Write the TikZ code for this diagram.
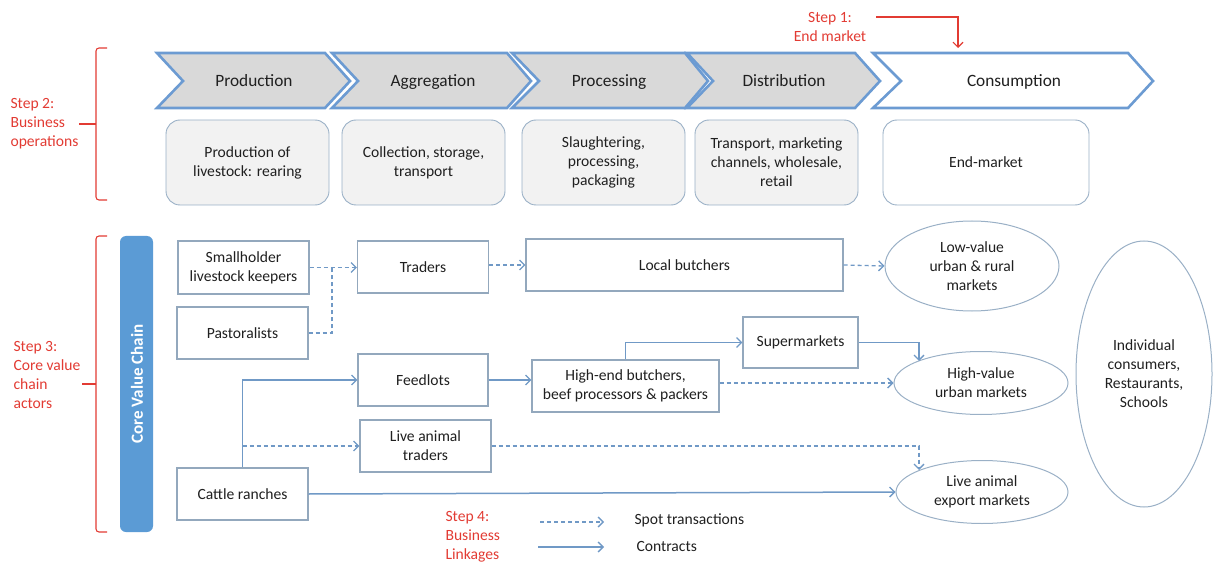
\documentclass[tikz,border=0pt]{standalone}
\usepackage{fontspec}
\setmainfont{Carlito}
\usetikzlibrary{arrows.meta,shapes.geometric}
\definecolor{stepred}{HTML}{E23B33}
\definecolor{chevblue}{HTML}{6C9BD2}
\definecolor{chevfill}{HTML}{D9D9D9}
\definecolor{opfill}{HTML}{F2F2F2}
\definecolor{opline}{HTML}{9AB0C6}
\definecolor{boxline}{HTML}{93A8BD}
\definecolor{linkblue}{HTML}{7099C6}
\definecolor{barblue}{HTML}{5B9BD5}
\definecolor{txt}{HTML}{202020}
\begin{document}
\begin{tikzpicture}[x=1pt,y=-1pt,
  every node/.style={text=txt, font=\fontsize{15.6}{19}\selectfont},
  chev/.style={draw=chevblue, line width=2.6pt, fill=chevfill, line join=miter},
  chevlabel/.style={font=\fontsize{17.3}{19}\selectfont, anchor=base},
  opbox/.style={draw=opline, line width=0.9pt, fill=opfill, rounded corners=14pt, align=center},
  actor/.style={draw=boxline, line width=1.1pt, fill=white, align=center, inner sep=0pt},
  market/.style={ellipse, draw=opline, line width=1pt, align=center, inner sep=0pt},
  steptext/.style={text=stepred, align=left, font=\fontsize{15.6}{19}\selectfont},
  bracestyle/.style={draw=stepred, line width=1.1pt, rounded corners=3pt},
  spot/.style={draw=linkblue, line width=1.3pt, dash pattern=on 4pt off 3pt, -{Straight Barb[length=5pt,width=10pt,line width=1.3pt]}},
  spotline/.style={draw=linkblue, line width=1.3pt, dash pattern=on 4pt off 3pt},
  contract/.style={draw=linkblue, line width=1.5pt, -{Straight Barb[length=5pt,width=10pt,line width=1.3pt]}},
  contractline/.style={draw=linkblue, line width=1.5pt}
]
\useasboundingbox (0,0) rectangle (1213,564);

% Chevrons
\draw[chev] (157,53) -- (325,53) -- (350,81) -- (325,108) -- (157,108) -- (183,81) -- cycle;
\draw[chev] (332,53) -- (507,53) -- (531,81) -- (507,108) -- (332,108) -- (358,81) -- cycle;
\draw[chev] (512,53) -- (685,53) -- (708,81) -- (685,108) -- (512,108) -- (539,81) -- cycle;
\draw[chev] (687,53) -- (855,53) -- (880,81) -- (855,108) -- (687,108) -- (713,81) -- cycle;
\draw[chev, fill=white] (873,53) -- (1128,53) -- (1153,81) -- (1128,108) -- (873,108) -- (901,81) -- cycle;
\node[chevlabel] (chprod) at (254,87) {Production};
\node[chevlabel] (chagg) at (433,87) {Aggregation};
\node[chevlabel] (chproc) at (609,87) {Processing};
\node[chevlabel] (chdist) at (784,87) {Distribution};
\node[chevlabel] (chcons) at (1014,87) {Consumption};

% Business operations boxes
\node[opbox, minimum width=163pt, minimum height=85pt] (opprod) at (247.5,162.5) {Production of\\livestock: rearing};
\node[opbox, minimum width=163pt, minimum height=85pt] (opagg) at (423.5,162.5) {Collection, storage,\\transport};
\node[opbox, minimum width=163pt, minimum height=85pt] (opproc) at (603.5,162.5) {Slaughtering,\\processing,\\packaging};
\node[opbox, minimum width=163pt, minimum height=85pt] (opdist) at (776.5,162.5) {Transport, marketing\\channels, wholesale,\\retail};
\node[opbox, fill=white, minimum width=206pt, minimum height=85pt] (opend) at (986,162.5) {End-market};

% Step 1
\node[steptext, align=center] (step1) at (830,27) {Step 1:\\End market};
\coordinate (s1a) at (876,17);
\coordinate (s1b) at (958,48);
\draw[draw=stepred, line width=1.1pt, -{Straight Barb[length=5pt,width=10pt,line width=1.1pt]}] (s1a) -| (s1b);

% Step 2
\node[steptext, anchor=west] (step2) at (7,124) {Step 2:\\Business\\operations};
\draw[bracestyle] (107,48) -- (96,48) -- (96,200) -- (107,200);
\draw[draw=stepred, line width=1.1pt] (79,124) -- (96,124);

% Step 3
\node[steptext, anchor=west] (step3) at (10,375) {Step 3:\\Core value\\chain\\actors};
\draw[bracestyle] (107,236) -- (96,236) -- (96,532) -- (107,532);
\draw[draw=stepred, line width=1.1pt] (82,384) -- (96,384);

% Core value chain bar
\fill[barblue, rounded corners=6pt] (120,236) rectangle (153,532);
\node[rotate=90, text=white, font=\fontsize{17}{19}\selectfont\bfseries] (cvc) at (137,384) {Core Value Chain};

% Actors
\node[actor, minimum width=131pt, minimum height=53pt] (small) at (243.5,267.5) {Smallholder\\livestock keepers};
\node[actor, minimum width=131pt, minimum height=52pt] (past) at (242.5,333) {Pastoralists};
\node[actor, minimum width=131pt, minimum height=52pt] (cattle) at (242.5,494) {Cattle ranches};
\node[actor, minimum width=131pt, minimum height=52pt] (traders) at (423,267) {Traders};
\node[actor, minimum width=130pt, minimum height=52pt] (feed) at (423,380) {Feedlots};
\node[actor, minimum width=131pt, minimum height=52pt] (live) at (425.5,446) {Live animal\\traders};
\node[actor, minimum width=317pt, minimum height=52pt] (local) at (684.5,265) {Local butchers};
\node[actor, minimum width=187pt, minimum height=52pt] (high) at (625.5,386) {High-end butchers,\\beef processors \& packers};
\node[actor, minimum width=115pt, minimum height=51pt] (super) at (800.5,342.5) {Supermarkets};

% Markets
\node[market, minimum width=174pt, minimum height=90pt] (low) at (972,266) {Low-value\\urban \& rural\\markets};
\node[market, minimum width=174pt, minimum height=63pt] (hv) at (981,383) {High-value\\urban markets};
\node[market, minimum width=172pt, minimum height=63pt] (exp) at (982,492) {Live animal\\export markets};
\node[market, minimum width=136pt, minimum height=266pt] (ind) at (1144,374) {Individual\\consumers,\\Restaurants,\\Schools};

% Links
\draw[spot] (small.east) -- (traders.west |- small.east);
\coordinate (pj) at (332,267.5);
\draw[spotline] (past.east) -| (pj);
\draw[spot] (traders.east |- local.west) -- (local.west);
\draw[spot] (local.east) -- (low.west);
\draw[contract] (cattle.north) |- (feed.west);
\coordinate (cj) at (cattle.north |- live.west);
\draw[spot] (cj) -- (live.west);
\draw[contract] (cattle.east) -- (exp.west);
\draw[contract] (feed.east) -- (high.west |- feed.east);
\draw[contract] (high.north) |- (super.west);
\coordinate (hvtop) at (919,361);
\draw[contract] (super.east) -| (hvtop);
\draw[spot] (high.east |- hv.west) -- (hv.west);
\coordinate (exptop) at (919,470);
\draw[spot] (live.east) -| (exptop);

% Step 4 legend
\node[steptext, anchor=west] (step4) at (442,537) {Step 4:\\Business\\Linkages};
\coordinate (l1a) at (540,522);
\coordinate (l1b) at (604,522);
\coordinate (l2a) at (538,547);
\coordinate (l2b) at (604,547);
\draw[spot] (l1a) -- (l1b);
\draw[contract] (l2a) -- (l2b);
\node[anchor=west] (spotlab) at (631,520) {Spot transactions};
\node[anchor=west] (conlab) at (633,546) {Contracts};
\end{tikzpicture}
\end{document}
